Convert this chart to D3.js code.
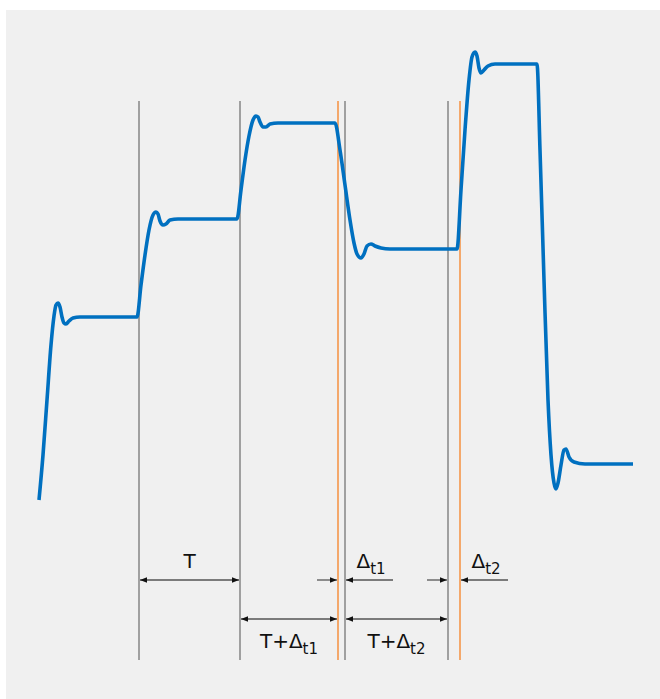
<!DOCTYPE html>
<html>
<head>
<meta charset="utf-8">
<script src="https://cdn.jsdelivr.net/npm/d3@7"></script>
<style>
  body { margin: 0; background: #ffffff; }
  svg { display: block; }
  text { font-family: "DejaVu Sans", sans-serif; fill: #111; }
</style>
</head>
<body>
<svg id="chart" width="660" height="699"></svg>
<script>
// signal samples: time (ms) and level
var sig_time = [
  0, 0.8, 1.6, 2.4, 3.0, 3.4, 3.8, 4.2, 4.6, 5.0, 5.4, 6.0, 6.8, 8.2, 19.6,
  20.4, 21.2, 22.0, 22.8, 23.4, 23.8, 24.2, 24.8, 25.4, 26.2, 27.8, 39.6,
  40.4, 41.2, 42.0, 42.8, 43.4, 43.8, 44.2, 44.8, 45.4, 46.2, 47.8, 59.2,
  60.2, 61.2, 62.2, 63.0, 63.6, 64.4, 65.0, 65.6, 66.4, 67.2, 68.4, 70.2, 83.6,
  84.4, 85.2, 86.0, 86.6, 87.2, 87.6, 88.0, 88.4, 89.0, 89.8, 91.2, 99.6,
  100.2, 101.0, 101.8, 102.4, 103.0, 103.4, 103.8, 104.4, 105.0, 105.4, 106.0, 107.0, 109.2, 118.8
];
var sig_level = [
  0, 0.45, 1.0, 1.55, 1.84, 1.95, 1.97, 1.93, 1.83, 1.77, 1.76, 1.79, 1.82, 1.83, 1.83,
  2.15, 2.45, 2.70, 2.85, 2.88, 2.86, 2.79, 2.75, 2.76, 2.80, 2.81, 2.81,
  3.10, 3.40, 3.64, 3.80, 3.84, 3.83, 3.78, 3.73, 3.73, 3.76, 3.77, 3.77,
  3.50, 3.15, 2.80, 2.57, 2.46, 2.42, 2.46, 2.54, 2.56, 2.54, 2.52, 2.51, 2.51,
  3.10, 3.70, 4.20, 4.43, 4.48, 4.44, 4.32, 4.27, 4.30, 4.34, 4.36, 4.36,
  3.50, 2.20, 1.00, 0.45, 0.17, 0.11, 0.17, 0.35, 0.50, 0.51, 0.43, 0.38, 0.36, 0.36
];

// marker lines (ms)
var clock_marks = [20, 40.2, 61.2, 81.8];
var arrival_marks = [59.8, 84.2];

// dimension arrows: from, to, row, label, subscript
var span_from = [20, 40.2, 61.2];
var span_to = [40.2, 59.8, 81.8];
var span_row = [0, 1, 1];
var span_label = ["T", "T+\u0394", "T+\u0394"];
var span_sub = ["", "t1", "t2"];

// small "pinch" arrows showing the deltas
var delta_left = [59.8, 81.8];
var delta_right = [61.2, 84.2];
var delta_sub = ["t1", "t2"];

var svg = d3.select("#chart");

svg.append("rect")
  .attr("x", 6).attr("y", 10)
  .attr("width", 654).attr("height", 689)
  .attr("fill", "#f0f0f0");

var x = d3.scaleLinear().domain([0, 120]).range([39, 639]);
var y = d3.scaleLinear().domain([0, 4.5]).range([500, 50]);

var defs = svg.append("defs");
function add_marker(id, path, refX) {
  defs.append("marker")
    .attr("id", id)
    .attr("viewBox", "0 0 10 10")
    .attr("refX", refX).attr("refY", 5)
    .attr("markerWidth", 7).attr("markerHeight", 7)
    .attr("markerUnits", "userSpaceOnUse")
    .attr("orient", "auto")
    .append("path")
    .attr("d", path)
    .attr("fill", "#111");
}
add_marker("head", "M0,1 L10,5 L0,9 Z", 10);
add_marker("tail", "M10,1 L0,5 L10,9 Z", 0);

// vertical markers
var line_top = 101, line_bottom = 660;
svg.selectAll("line.clock")
  .data(clock_marks)
  .enter().append("line")
  .attr("class", "clock")
  .attr("x1", function(d) { return x(d); })
  .attr("x2", function(d) { return x(d); })
  .attr("y1", line_top).attr("y2", line_bottom)
  .attr("stroke", "#8c8c8c")
  .attr("stroke-width", 1.6);

svg.selectAll("line.arrival")
  .data(arrival_marks)
  .enter().append("line")
  .attr("class", "arrival")
  .attr("x1", function(d) { return x(d); })
  .attr("x2", function(d) { return x(d); })
  .attr("y1", line_top).attr("y2", line_bottom)
  .attr("stroke", "#f5964a")
  .attr("stroke-width", 1.6);

// the signal
var pts = d3.zip(sig_time, sig_level);
var line = d3.line()
  .x(function(d) { return x(d[0]); })
  .y(function(d) { return y(d[1]); })
  .curve(d3.curveMonotoneX);

svg.append("path")
  .datum(pts)
  .attr("d", line)
  .attr("fill", "none")
  .attr("stroke", "#0070c0")
  .attr("stroke-width", 3.6)
  .attr("stroke-linejoin", "round");

// dimension arrows
var row_y = [580, 619];
for (var i = 0; i < span_from.length; i++) {
  var ay = row_y[span_row[i]];
  var x1 = x(span_from[i]) + 1, x2 = x(span_to[i]) - 1;
  svg.append("line")
    .attr("x1", x1).attr("x2", x2)
    .attr("y1", ay).attr("y2", ay)
    .attr("stroke", "#555").attr("stroke-width", 1.3)
    .attr("marker-start", "url(#tail)")
    .attr("marker-end", "url(#head)");

  var ty = span_row[i] == 0 ? ay - 12 : ay + 29;
  var t = svg.append("text")
    .attr("x", (x1 + x2) / 2)
    .attr("y", ty)
    .attr("text-anchor", "middle")
    .attr("font-size", "20px")
    .text(span_label[i]);
  if (span_sub[i] != "") {
    t.append("tspan")
      .attr("font-size", "15px")
      .attr("dy", 6)
      .text(span_sub[i]);
  }
}

// delta pinch arrows
for (var j = 0; j < delta_left.length; j++) {
  var py = row_y[0];
  var xl = x(delta_left[j]) - 1, xr = x(delta_right[j]) + 1;
  svg.append("line")
    .attr("x1", xl - 20).attr("x2", xl)
    .attr("y1", py).attr("y2", py)
    .attr("stroke", "#555").attr("stroke-width", 1.3)
    .attr("marker-end", "url(#head)");
  svg.append("line")
    .attr("x1", xr + 47).attr("x2", xr)
    .attr("y1", py).attr("y2", py)
    .attr("stroke", "#555").attr("stroke-width", 1.3)
    .attr("marker-end", "url(#head)");

  var dt = svg.append("text")
    .attr("x", xr + 25)
    .attr("y", py - 12)
    .attr("text-anchor", "middle")
    .attr("font-size", "20px")
    .text("\u0394");
  dt.append("tspan")
    .attr("font-size", "15px")
    .attr("dy", 6)
    .text(delta_sub[j]);
}
</script>
</body>
</html>
